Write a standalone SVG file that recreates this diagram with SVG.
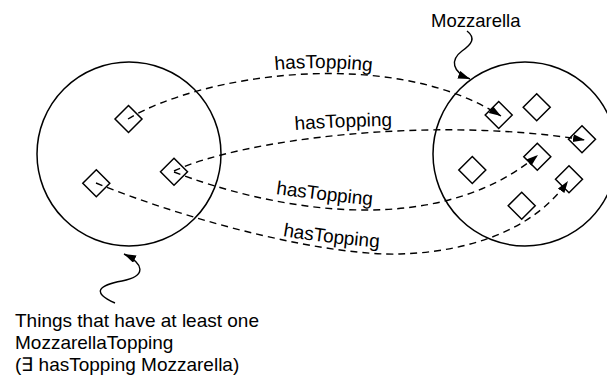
<svg xmlns="http://www.w3.org/2000/svg" width="607" height="385" viewBox="0 0 607 385">
<style>
.set{fill:none;stroke:#000;stroke-width:1.5}
.item{fill:#fff;stroke:#000;stroke-width:1.5}
.rel{fill:none;stroke:#000;stroke-width:1.4;stroke-dasharray:7,5}
.pointer{fill:none;stroke:#000;stroke-width:1.4}
text{font-family:"Liberation Sans",Arial,sans-serif;font-size:19px;fill:#000}
.name{font-size:18.5px}
</style>
<defs>
<marker id="ah" markerUnits="userSpaceOnUse" markerWidth="14" markerHeight="10" refX="12" refY="4" orient="auto">
<path d="M0,0 L12,4 L0,8 z" fill="#000"/>
</marker>
<path id="t1" d="M275,70 Q327,65 385,73"/>
<path id="t2" d="M295,130 Q350,126 405,126"/>
<path id="t3" d="M276,194 Q325,201 380,206"/>
<path id="t4" d="M283,236 Q330,244 385,248"/>
</defs>
<g id="things-set">
<circle class="set" cx="129" cy="154" r="92"/>
<polygon class="item" points="128.5,105.5 142,119 128.5,132.5 115,119"/>
<polygon class="item" points="96.3,169.8 109.8,183.3 96.3,196.8 82.8,183.3"/>
<polygon class="item" points="174,158.2 187.5,171.7 174,185.2 160.5,171.7"/>
</g>
<g id="mozzarella-set">
<circle class="set" cx="525" cy="154" r="92"/>
<polygon class="item" points="498.7,101.5 512.2,115 498.7,128.5 485.2,115"/>
<polygon class="item" points="536.7,93.8 550.2,107.3 536.7,120.8 523.2,107.3"/>
<polygon class="item" points="582,125.8 595.5,139.3 582,152.8 568.5,139.3"/>
<polygon class="item" points="537.3,143.2 550.8,156.7 537.3,170.2 523.8,156.7"/>
<polygon class="item" points="472.3,156.5 485.8,170 472.3,183.5 458.8,170"/>
<polygon class="item" points="569,165.8 582.5,179.3 569,192.8 555.5,179.3"/>
<polygon class="item" points="521.7,192.2 535.2,205.7 521.7,219.2 508.2,205.7"/>
</g>
<g id="connectors">
<path class="rel" d="M128,119 C200,75 390,45 501,116" marker-end="url(#ah)"/>
<path class="rel" d="M174,171 C240,140 430,115 585,140" marker-end="url(#ah)"/>
<path class="rel" d="M174,172 C260,205 430,245 538,155" marker-end="url(#ah)"/>
<path class="rel" d="M96,183 C200,225 330,256 400,254 C460,252 530,235 568,181" marker-end="url(#ah)"/>
<path class="pointer" d="M467,31 C476,38 472,44 462,51 C450,60 452,72 470,79" marker-end="url(#ah)"/>
<path class="pointer" d="M115,303 C90,292 100,285 122,281 C148,276 143,263 124,254" marker-end="url(#ah)"/>
</g>
<g id="labels">
<text><textPath href="#t1">hasTopping</textPath></text>
<text><textPath href="#t2">hasTopping</textPath></text>
<text><textPath href="#t3">hasTopping</textPath></text>
<text><textPath href="#t4">hasTopping</textPath></text>
<text class="name" x="431" y="27">Mozzarella</text>
<text x="15" y="327">Things that have at least one</text>
<text x="15" y="349">MozzarellaTopping</text>
<text x="15" y="371">(∃ hasTopping Mozzarella)</text>
</g>
</svg>
